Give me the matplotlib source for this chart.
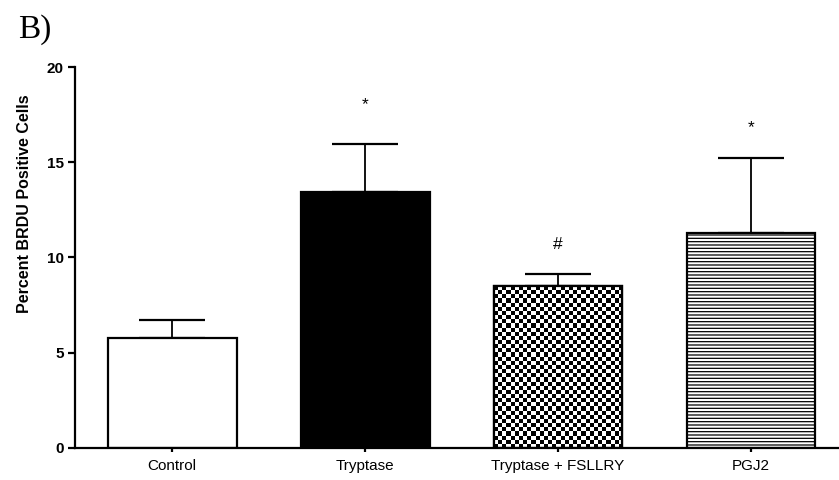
import numpy as np
import matplotlib
matplotlib.use("Agg")
import matplotlib.pyplot as plt

plt.rcParams['font.family'] = ['Liberation Sans', 'DejaVu Sans']
plt.rcParams['hatch.linewidth'] = 0.9

# data
groups = ['Control', 'Tryptase', 'Tryptase + FSLLRY', 'PGJ2']
means = [5.75, 13.45, 8.5, 11.3]
sems = [0.95, 2.5, 0.65, 3.9]
marks = ['', '*', '#', '*']
mark_y = [0, 18.0, 10.7, 16.8]

fig = plt.figure(figsize=(8.39, 4.8), dpi=100)
ax = fig.add_axes([0.0894, 0.0667, 0.9106, 0.7937])

x = np.arange(len(groups))
w = 0.668
ax.set_xlim(-0.503, 3.456)
ax.set_ylim(0, 20)

bars = ax.bar(x, means, width=w, color='white', edgecolor='black', linewidth=1.6, zorder=2)
bars[1].set_facecolor('black')
bars[3].set_hatch('-----')

# checkerboard fill for the third bar
b = bars[2]
x0, y0 = b.get_x(), b.get_y()
bw, bh = b.get_width(), b.get_height()
p0 = ax.transData.transform((x0, y0))
p1 = ax.transData.transform((x0 + bw, y0 + bh))
nx = int(round((p1[0] - p0[0]) / 4.2))
ny = int(round((p1[1] - p0[1]) / 4.2))
checker = (np.add.outer(np.arange(ny), np.arange(nx)) % 2).astype(float)
im = ax.imshow(checker, cmap='gray', extent=(x0, x0 + bw, y0, y0 + bh),
               aspect='auto', interpolation='nearest', zorder=2.5)
im.set_clip_path(b)
ax.bar([x[2]], [means[2]], width=w, color='none', edgecolor='black', linewidth=1.6, zorder=3)

ax.errorbar(x, means, yerr=[np.zeros(len(x)), sems], fmt='none', ecolor='black',
            elinewidth=1.3, capsize=23.5, capthick=1.6, zorder=1)

for xi, m, my in zip(x, marks, mark_y):
    if m:
        ax.text(xi, my, m, ha='center', va='center', fontsize=12.5)

ax.spines['top'].set_visible(False)
ax.spines['right'].set_visible(False)
ax.spines['left'].set_linewidth(1.6)
ax.spines['bottom'].set_linewidth(1.6)

ax.set_yticks([0, 5, 10, 15, 20])
ax.tick_params(axis='y', direction='out', length=5, width=1.6, labelsize=11, pad=3)
for t in ax.get_yticklabels():
    t.set_fontweight('bold')
ax.set_xticks(x)
ax.set_xticklabels(groups)
ax.tick_params(axis='x', direction='out', length=3, width=1.6, labelsize=11, pad=5)

ax.set_ylabel('Percent BRDU Positive Cells', fontsize=11.5, fontweight='bold',
              labelpad=11, y=0.64)

fig.text(0.021, 0.922, 'B)', fontsize=24, family=['Liberation Serif', 'DejaVu Serif'])

fig.savefig('out.png', dpi=100)
